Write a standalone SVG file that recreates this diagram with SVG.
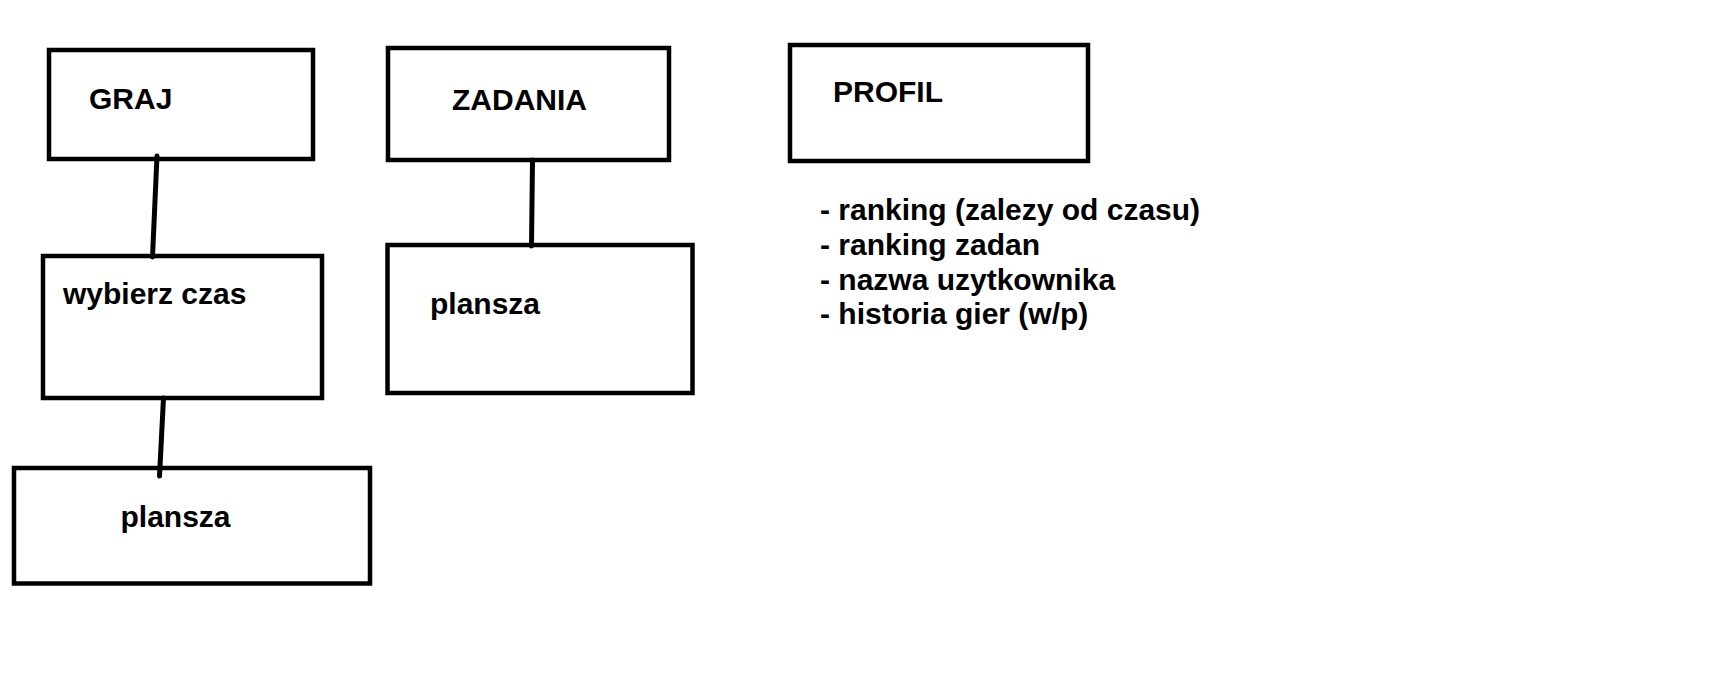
<svg xmlns="http://www.w3.org/2000/svg" width="1710" height="700" viewBox="0 0 1710 700">
<style>
.box{fill:#fff;stroke:#000;stroke-width:4.5}
.lbl{font-family:"Liberation Sans",Arial,sans-serif;font-weight:bold;font-size:30px;fill:#000}
.conn line{stroke:#000;stroke-width:5;stroke-linecap:round}
</style>
<rect width="1710" height="700" fill="#fff"/>
<g id="graj"><rect class="box" x="49" y="50" width="264" height="109"/><text class="lbl" x="89" y="109">GRAJ</text></g>
<g id="zadania"><rect class="box" x="388" y="48" width="281" height="112"/><text class="lbl" x="452" y="110">ZADANIA</text></g>
<g id="profil"><rect class="box" x="790" y="45" width="298" height="116"/><text class="lbl" x="833" y="101.7">PROFIL</text></g>
<g id="profil-list"><text class="lbl"><tspan x="820" y="220">- ranking (zalezy od czasu)</tspan><tspan x="820" y="254.5">- ranking zadan</tspan><tspan x="820" y="289.5">- nazwa uzytkownika</tspan><tspan x="820" y="324">- historia gier (w/p)</tspan></text></g>
<g id="wybierz"><rect class="box" x="43" y="256" width="279" height="142"/><text class="lbl" x="63" y="304.3">wybierz czas</text></g>
<g id="plansza1"><rect class="box" x="14" y="468" width="356" height="115.5"/><text class="lbl" x="120.5" y="527.3">plansza</text></g>
<g id="plansza2"><rect class="box" x="387.5" y="245" width="305" height="148"/><text class="lbl" x="430" y="314.3">plansza</text></g>
<g class="conn" id="connectors">
<line x1="157" y1="156" x2="152.5" y2="257"/>
<line x1="532.5" y1="160" x2="531.5" y2="246"/>
<line x1="163.5" y1="398" x2="159.5" y2="476"/>
</g>
</svg>
